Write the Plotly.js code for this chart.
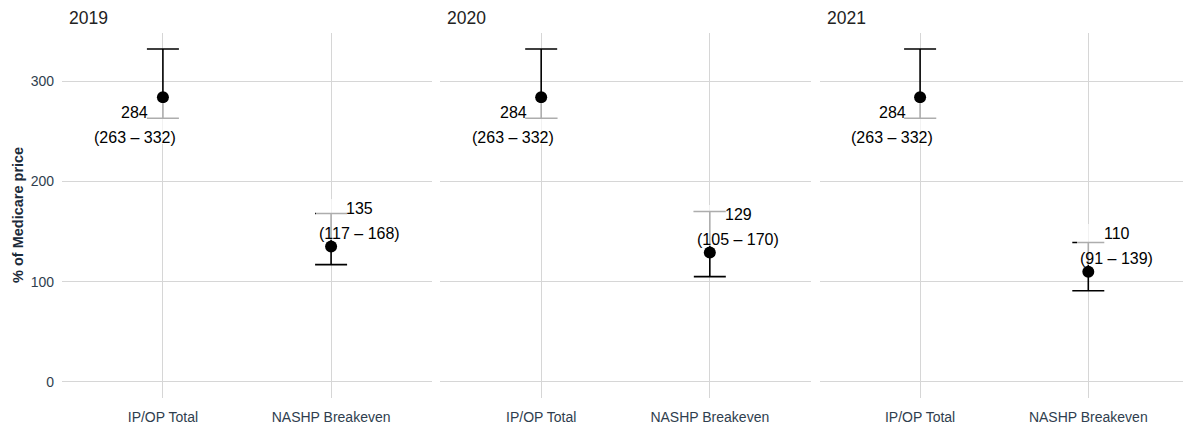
<!DOCTYPE html>
<html>
<head>
<meta charset="utf-8">
<script src="https://cdn.plot.ly/plotly-3.0.1.min.js"></script>
<style>html,body{margin:0;padding:0;background:#fff;}#chart{width:1183px;height:425px;}</style>
</head>
<body>
<div id="chart"></div>
<script>
const years = ['2019', '2020', '2021'];
const categories = ['IP/OP Total', 'NASHP Breakeven'];
const ipopEst = [284, 284, 284];
const ipopLo = [263, 263, 263];
const ipopHi = [332, 332, 332];
const nashpEst = [135, 129, 110];
const nashpLo = [117, 105, 91];
const nashpHi = [168, 170, 139];
const yTicks = [0, 100, 200, 300];
const yTitle = '% of Medicare price';

const PW = 1121; // plot area width
const domains = [[0, 370 / PW], [378 / PW, 749 / PW], [758 / PW, 1]];
const xRanges = [[-0.6, 1.6], [-0.6, 1.6], [-0.595, 1.563]];
const gridColor = '#d6d6d6';
const tickColor = '#2f3e4e';
const FONT = 'Liberation Sans, Arial, sans-serif';
const LABEL_SIZE = 16;

const ctx = document.createElement('canvas').getContext('2d');
ctx.font = LABEL_SIZE + 'px "Liberation Sans", Arial, sans-serif';
function textWidth(s) { return ctx.measureText(s).width; }

const traces = [];
const annotations = [];
const layout = {
  width: 1183, height: 425,
  margin: {l: 62, r: 0, t: 33, b: 27},
  paper_bgcolor: '#fff', plot_bgcolor: '#fff',
  showlegend: false,
  font: {family: FONT, size: 14, color: tickColor},
  annotations: annotations
};

years.forEach((yr, i) => {
  const sfx = i === 0 ? '' : String(i + 1);
  const est = [ipopEst[i], nashpEst[i]];
  const lo = [ipopLo[i], nashpLo[i]];
  const hi = [ipopHi[i], nashpHi[i]];
  traces.push({
    type: 'scatter', mode: 'markers',
    x: categories, y: est,
    xaxis: 'x' + sfx, yaxis: 'y' + sfx,
    marker: {color: '#000', size: 12},
    error_y: {
      type: 'data', symmetric: false,
      array: est.map((v, k) => hi[k] - v),
      arrayminus: est.map((v, k) => v - lo[k]),
      color: '#000', thickness: 1.6, width: 16
    },
    hoverinfo: 'skip'
  });
  layout['xaxis' + sfx] = {
    domain: domains[i], anchor: 'y' + sfx,
    type: 'category', range: xRanges[i],
    showgrid: true, gridcolor: gridColor, gridwidth: 1,
    zeroline: false, showline: false, ticks: '',
    ticklabelstandoff: 9,
    tickfont: {family: FONT, size: 14, color: tickColor},
    automargin: false
  };
  layout['yaxis' + sfx] = {
    domain: [0, 1], anchor: 'x' + sfx,
    range: [-16, 348],
    tickvals: yTicks,
    showticklabels: i === 0,
    showgrid: true, gridcolor: gridColor, gridwidth: 1,
    zeroline: false, showline: false, ticks: '',
    ticklabelstandoff: 7,
    tickfont: {family: FONT, size: 14, color: tickColor},
    automargin: false
  };
  if (i > 0) layout['yaxis' + sfx].matches = 'y';

  // panel title
  annotations.push({
    text: yr, xref: 'x' + sfx + ' domain', yref: 'paper',
    x: 0, y: 1, xanchor: 'left', yanchor: 'middle',
    xshift: 5, yshift: 15, showarrow: false,
    font: {family: FONT, size: 17.5, color: '#222'}
  });

  // value labels: translucent backing box, then two text lines
  categories.forEach((c, k) => {
    const isIp = k === 0;
    const line1 = String(est[k]);
    const line2 = '(' + lo[k] + ' \u2013 ' + hi[k] + ')';
    const dx = isIp ? -28 : 28.5;
    const y1 = isIp ? -15.5 : 38.5;   // line 1 centre offset (px, up positive)
    const y2 = isIp ? -40.5 : 13.3;   // line 2 centre offset
    const w = Math.max(textWidth(line1), textWidth(line2)) + 6;
    const top = y1 + 9, bottom = y2 - 6.5;
    annotations.push({
      text: ' ', xref: 'x' + sfx, yref: 'y' + sfx,
      x: c, y: est[k], xanchor: 'center', yanchor: 'middle',
      xshift: dx, yshift: (top + bottom) / 2,
      width: w, height: top - bottom,
      borderpad: 0, borderwidth: 0, showarrow: false,
      bgcolor: 'rgba(255,255,255,0.68)',
      font: {family: FONT, size: 4, color: 'rgba(0,0,0,0)'}
    });
    [[line1, y1], [line2, y2]].forEach(([t, ys]) => {
      annotations.push({
        text: t, xref: 'x' + sfx, yref: 'y' + sfx,
        x: c, y: est[k], xanchor: 'center', yanchor: 'middle',
        xshift: dx, yshift: ys, showarrow: false,
        font: {family: FONT, size: LABEL_SIZE, color: '#000'}
      });
    });
  });
});

// y axis title
annotations.push({
  text: '<b>' + yTitle + '</b>', xref: 'paper', yref: 'paper',
  x: 0, y: 0.5, xshift: -44.5, xanchor: 'center', yanchor: 'middle',
  textangle: -90, showarrow: false,
  font: {family: FONT, size: 14.5, color: '#1c2b3a'}
});

Plotly.newPlot('chart', traces, layout, {staticPlot: true, displayModeBar: false});
</script>
</body>
</html>
